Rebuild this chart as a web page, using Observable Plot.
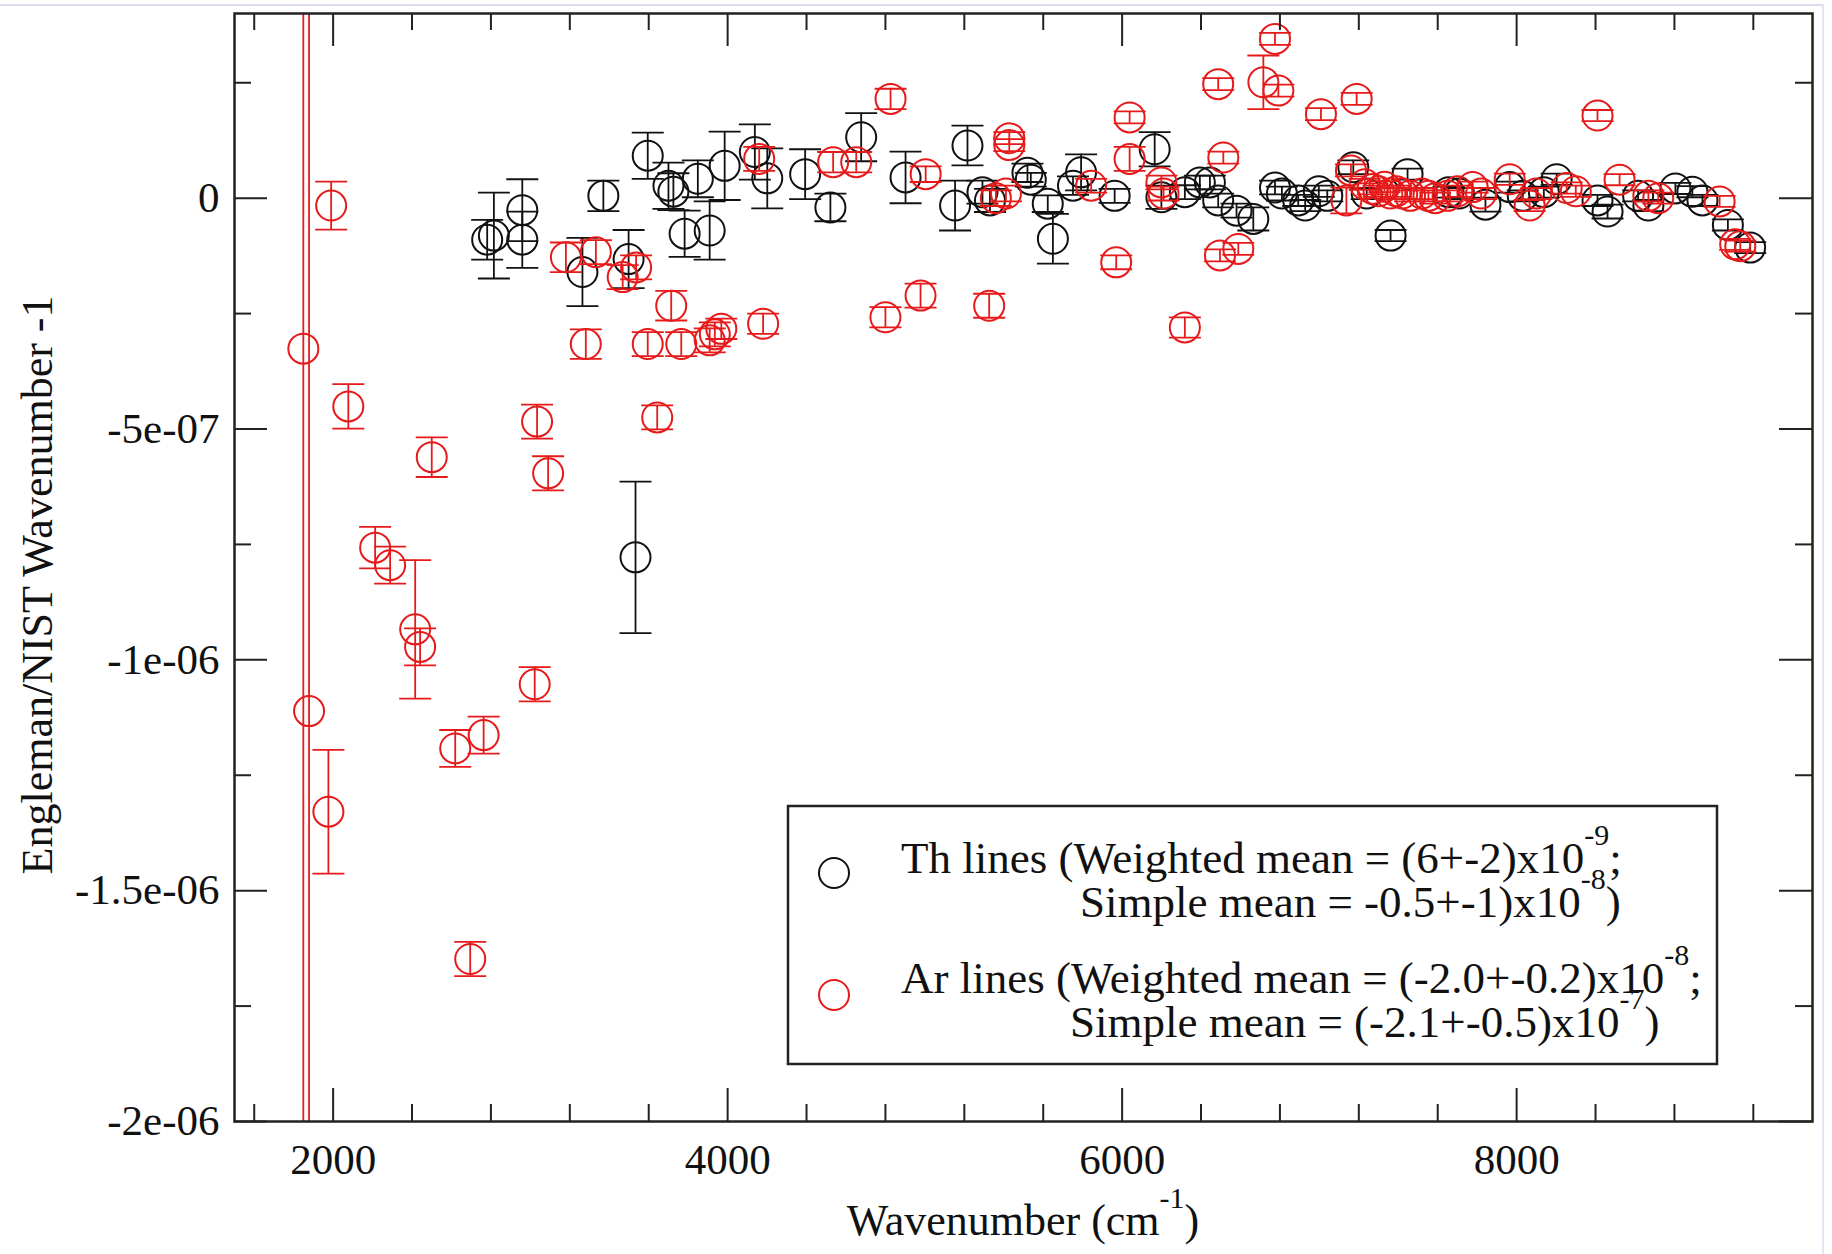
<!DOCTYPE html>
<html>
<head>
<meta charset="utf-8">
<script src="https://cdn.jsdelivr.net/npm/d3@7"></script>
<script src="https://cdn.jsdelivr.net/npm/@observablehq/plot@0.6"></script>
<style>
  html, body { margin: 0; padding: 0; background: #fff; }
  #wrap { position: relative; width: 1832px; height: 1254px; overflow: hidden; background: #fff; }
  #wrap > svg { position: absolute; left: 0; top: 0; }
  #edge { position: absolute; left: 0; top: 4px; width: 1822px; height: 1260px; border-top: 2px solid #dcdcef; border-right: 2px solid #e4e4f2; pointer-events: none; }
</style>
</head>
<body>
<div id="wrap"><div id="edge"></div></div>
<script>
// ---------- data ----------
// Th lines: wavenumber (cm-1), Engleman/NIST - 1, error
const thX = [2781, 2815, 2959, 2959, 3264, 3370, 3498, 3533, 3595, 3700, 3725, 3782, 3849, 3909, 3985, 4138, 4201, 4393, 4521, 4677, 4902, 5153, 5216, 5292, 5330, 5520, 5537, 5623, 5649, 5751, 5792, 5962, 6165, 6199, 6318, 6394, 6445, 6487, 6580, 6665, 6775, 6810, 6893, 6928, 6997, 7040, 7172, 7240, 7361, 7447, 7655, 7708, 7842, 7965, 8031, 8138, 8203, 8410, 8461, 8616, 8668, 8805, 8891, 8942, 9071, 9184];
const thY = [-9.0e-8, -8.1e-8, -2.6e-8, -9.0e-8, -1.6e-7, 5e-9, -1.32e-7, -7.78e-7, 9.2e-8, 2.7e-8, 1.4e-8, -7.7e-8, 4.2e-8, -7.0e-8, 7.0e-8, 1.0e-7, 4.3e-8, 5.2e-8, -2.0e-8, 1.32e-7, 4.5e-8, -1.6e-8, 1.14e-7, 1.3e-8, -5e-9, 5.5e-8, 4.0e-8, -1.2e-8, -8.8e-8, 2.7e-8, 5.6e-8, 5e-9, 1.06e-7, 2e-9, 1.3e-8, 3.4e-8, 3.4e-8, -5e-9, -2.7e-8, -4.5e-8, 2.3e-8, 1.0e-8, -5e-9, -1.6e-8, 1.5e-8, 5e-9, 6.7e-8, 1.0e-8, -8.1e-8, 5.2e-8, 1.3e-8, 1.0e-8, -1.4e-8, 2.4e-8, 5e-9, 1.3e-8, 4.1e-8, -5e-9, -2.9e-8, 5e-9, -1.6e-8, 2.1e-8, 1.4e-8, -5e-9, -5.8e-8, -1.07e-7];
const thErr = [4.3e-8, 9.3e-8, 6.7e-8, 6.1e-8, 7.4e-8, 3.3e-8, 6.3e-8, 1.64e-7, 5.0e-8, 5.0e-8, 4.0e-8, 5.0e-8, 4.0e-8, 6.3e-8, 7.4e-8, 6.0e-8, 6.5e-8, 5.4e-8, 3.0e-8, 5.2e-8, 5.6e-8, 5.4e-8, 4.3e-8, 2.5e-8, 2.5e-8, 2.0e-8, 1.5e-8, 1.8e-8, 5.4e-8, 2.0e-8, 3.9e-8, 1.5e-8, 3.7e-8, 2.5e-8, 1.5e-8, 1.5e-8, 1.5e-8, 1.5e-8, 1.5e-8, 2.5e-8, 1.5e-8, 1.5e-8, 1.2e-8, 1.2e-8, 1.2e-8, 1.2e-8, 1.5e-8, 1.2e-8, 1.2e-8, 1.2e-8, 1.2e-8, 1.2e-8, 1.5e-8, 1.2e-8, 1.2e-8, 1.2e-8, 1.2e-8, 1.2e-8, 1.5e-8, 1.2e-8, 1.2e-8, 1.2e-8, 1.2e-8, 1.2e-8, 1.2e-8, 1.2e-8];

// Ar lines
const arX = [1849, 1878, 1976, 1990, 2077, 2213, 2289, 2416, 2441, 2500, 2619, 2695, 2763, 3022, 3034, 3090, 3180, 3281, 3332, 3468, 3536, 3595, 3643, 3714, 3765, 3909, 3935, 3968, 4160, 4180, 4535, 4652, 4800, 4826, 4978, 5004, 5326, 5360, 5411, 5428, 5428, 5843, 5970, 6038, 6038, 6199, 6210, 6318, 6487, 6496, 6513, 6589, 6716, 6775, 6792, 7008, 7137, 7160, 7189, 7230, 7270, 7300, 7330, 7360, 7390, 7420, 7460, 7520, 7553, 7587, 7650, 7700, 7777, 7820, 7965, 8066, 8100, 8254, 8300, 8410, 8522, 8668, 8718, 9029, 9108, 9134];
const arY = [-3.26e-7, -1.111e-6, -1.329e-6, -1.6e-8, -4.51e-7, -7.57e-7, -7.95e-7, -9.34e-7, -9.72e-7, -5.61e-7, -1.192e-6, -1.648e-6, -1.163e-6, -1.053e-6, -4.84e-7, -5.96e-7, -1.28e-7, -3.16e-7, -1.17e-7, -1.71e-7, -1.5e-7, -3.16e-7, -4.75e-7, -2.33e-7, -3.16e-7, -3.08e-7, -2.95e-7, -2.83e-7, 8.5e-8, -2.72e-7, 7.8e-8, 7.8e-8, -2.58e-7, 2.15e-7, -2.11e-7, 5.2e-8, -2.33e-7, 0, 1.0e-8, 1.3e-7, 1.15e-7, 2.7e-8, -1.39e-7, 1.75e-7, 8.5e-8, 3.4e-8, 1.0e-8, -2.8e-7, 2.47e-7, -1.24e-7, 8.8e-8, -1.1e-7, 2.51e-7, 3.45e-7, 2.33e-7, 1.82e-7, -5e-9, 6.0e-8, 2.15e-7, 3.0e-8, 2.0e-8, 1.5e-8, 2.5e-8, 1.0e-8, 1.5e-8, 1.0e-8, 5e-9, 1.0e-8, 5e-9, 0, 5e-9, 1.5e-8, 2.4e-8, 1.0e-8, 4.1e-8, -1.6e-8, 1.0e-8, 2.2e-8, 1.5e-8, 1.79e-7, 4.0e-8, 5e-9, 0, -7e-9, -1.0e-7, -1.04e-7];
const arErr = [5e-6, 5e-6, 1.34e-7, 5.2e-8, 4.8e-8, 4.5e-8, 4.0e-8, 1.5e-7, 4.0e-8, 4.3e-8, 4.0e-8, 3.7e-8, 4.0e-8, 3.7e-8, 3.7e-8, 3.7e-8, 3.2e-8, 3.2e-8, 2.6e-8, 2.6e-8, 2.6e-8, 2.6e-8, 2.6e-8, 3.2e-8, 2.6e-8, 2.6e-8, 2.6e-8, 2.2e-8, 2.6e-8, 2.2e-8, 2.2e-8, 2.2e-8, 2.2e-8, 2.2e-8, 2.6e-8, 1.7e-8, 2.6e-8, 1.7e-8, 1.7e-8, 1.3e-8, 1.3e-8, 1.5e-8, 1.5e-8, 1.3e-8, 2.6e-8, 1.5e-8, 1.5e-8, 2.2e-8, 1.3e-8, 1.3e-8, 1.3e-8, 1.3e-8, 5.8e-8, 1.3e-8, 1.3e-8, 1.3e-8, 2.8e-8, 1.3e-8, 1.3e-8, 1.2e-8, 1.2e-8, 1.2e-8, 1.2e-8, 1.2e-8, 1.2e-8, 1.2e-8, 1.2e-8, 1.2e-8, 1.2e-8, 1.2e-8, 1.2e-8, 1.2e-8, 1.2e-8, 1.2e-8, 1.2e-8, 1.2e-8, 1.2e-8, 1.2e-8, 1.2e-8, 1.2e-8, 1.2e-8, 1.2e-8, 1.2e-8, 1.2e-8, 1.2e-8, 1.2e-8];

// axes
const xDomain = [1500, 9500];
const yDomain = [-2e-6, 4e-7];
const xTicks = [2000, 4000, 6000, 8000];
const xTickLabels = ["2000", "4000", "6000", "8000"];
const xMinorTicks = [1600, 2400, 2800, 3200, 3600, 4400, 4800, 5200, 5600, 6400, 6800, 7200, 7600, 8400, 8800, 9200];
const yTicks = [-2e-6, -1.5e-6, -1e-6, -5e-7, 0];
const yTickLabels = ["-2e-06", "-1.5e-06", "-1e-06", "-5e-07", "0"];
const yMinorTicks = [-1.75e-6, -1.25e-6, -7.5e-7, -2.5e-7, 2.5e-7];

// ---------- layout ----------
const W = 1832, H = 1254;
const mL = 234, mR = 20, mT = 13, mB = 133;
const pw = W - mL - mR, ph = H - mT - mB;
const majorLen = 33, minorLen = 17;
const BLACK = "#111111", RED = "#e61a1a", AXIS = "#222222";
const SERIF = "'Liberation Serif', 'Times New Roman', serif";

const rows = (xs, ys, es) => xs.map((x, i) => ({x, y: ys[i], lo: ys[i] - es[i], hi: ys[i] + es[i]}));
const th = rows(thX, thY, thErr);
const ar = rows(arX, arY, arErr);

const capSymbol = { draw(ctx) { ctx.moveTo(-16, 0); ctx.lineTo(16, 0); } };

function series(data, color) {
  return [
    Plot.ruleX(data, {x: "x", y1: "lo", y2: "hi", stroke: color, strokeWidth: 1.8, clip: true}),
    Plot.dot(data, {x: "x", y: "lo", symbol: capSymbol, r: 16, stroke: color, fill: "none", strokeWidth: 1.8, clip: true}),
    Plot.dot(data, {x: "x", y: "hi", symbol: capSymbol, r: 16, stroke: color, fill: "none", strokeWidth: 1.8, clip: true}),
    Plot.dot(data, {x: "x", y: "y", r: 15, stroke: color, fill: "none", strokeWidth: 2, clip: true})
  ];
}

const chart = Plot.plot({
  width: W, height: H,
  marginLeft: mL, marginRight: mR, marginTop: mT, marginBottom: mB,
  x: {domain: xDomain, axis: null},
  y: {domain: yDomain, axis: null},
  style: {fontFamily: SERIF, fontSize: "43px", color: "#111", background: "transparent", overflow: "visible"},
  marks: [
    ...series(th, BLACK),
    ...series(ar, RED),
    // inward ticks on all four sides
    Plot.ruleX(xTicks, {x: d => d, insetTop: ph - majorLen, stroke: AXIS, strokeWidth: 2}),
    Plot.ruleX(xTicks, {x: d => d, insetBottom: ph - majorLen, stroke: AXIS, strokeWidth: 2}),
    Plot.ruleX(xMinorTicks, {x: d => d, insetTop: ph - minorLen, stroke: AXIS, strokeWidth: 2}),
    Plot.ruleX(xMinorTicks, {x: d => d, insetBottom: ph - minorLen, stroke: AXIS, strokeWidth: 2}),
    Plot.ruleY(yTicks, {y: d => d, insetRight: pw - majorLen, stroke: AXIS, strokeWidth: 2}),
    Plot.ruleY(yTicks, {y: d => d, insetLeft: pw - majorLen, stroke: AXIS, strokeWidth: 2}),
    Plot.ruleY(yMinorTicks, {y: d => d, insetRight: pw - minorLen, stroke: AXIS, strokeWidth: 2}),
    Plot.ruleY(yMinorTicks, {y: d => d, insetLeft: pw - minorLen, stroke: AXIS, strokeWidth: 2}),
    Plot.frame({stroke: AXIS, strokeWidth: 2.5}),
    Plot.axisX(xTicks, {anchor: "bottom", tickSize: 0, tickPadding: 22, label: null, tickFormat: d => xTickLabels[xTicks.indexOf(d)], fill: "#111"}),
    Plot.axisY(yTicks, {anchor: "left", tickSize: 0, tickPadding: 15, label: null, tickFormat: d => yTickLabels[yTicks.indexOf(d)], fill: "#111"})
  ]
});
document.getElementById("wrap").appendChild(chart);

// ---------- legend and axis titles (overlay) ----------
const ns = "http://www.w3.org/2000/svg";
const ov = document.createElementNS(ns, "svg");
ov.setAttribute("width", W); ov.setAttribute("height", H);
ov.style.pointerEvents = "none";
ov.style.fontFamily = SERIF;
ov.innerHTML = `
  <rect x="788" y="806" width="929" height="258" fill="#fff" stroke="${AXIS}" stroke-width="2.5"/>
  <circle cx="834" cy="873" r="15" fill="none" stroke="${BLACK}" stroke-width="2"/>
  <circle cx="834" cy="995" r="15" fill="none" stroke="${RED}" stroke-width="2"/>
  <g font-size="45" fill="#111">
    <text x="901" y="873">Th lines (Weighted mean = (6+-2)x10<tspan font-size="30" dy="-28">-9</tspan><tspan dy="28">;</tspan></text>
    <text x="1080" y="917">Simple mean = -0.5+-1)x10<tspan font-size="30" dy="-28">-8</tspan><tspan dy="28">)</tspan></text>
    <text x="901" y="993">Ar lines (Weighted mean = (-2.0+-0.2)x10<tspan font-size="30" dy="-28">-8</tspan><tspan dy="28">;</tspan></text>
    <text x="1070" y="1037">Simple mean = (-2.1+-0.5)x10<tspan font-size="30" dy="-28">-7</tspan><tspan dy="28">)</tspan></text>
  </g>
  <text x="${mL + pw / 2}" y="1235" font-size="44" text-anchor="middle" fill="#111">Wavenumber (cm<tspan font-size="30" dy="-27">-1</tspan><tspan dy="27">)</tspan></text>
  <text transform="translate(52,585) rotate(-90)" font-size="44" text-anchor="middle" fill="#111">Engleman/NIST Wavenumber -1</text>
`;
document.getElementById("wrap").appendChild(ov);
</script>
</body>
</html>
